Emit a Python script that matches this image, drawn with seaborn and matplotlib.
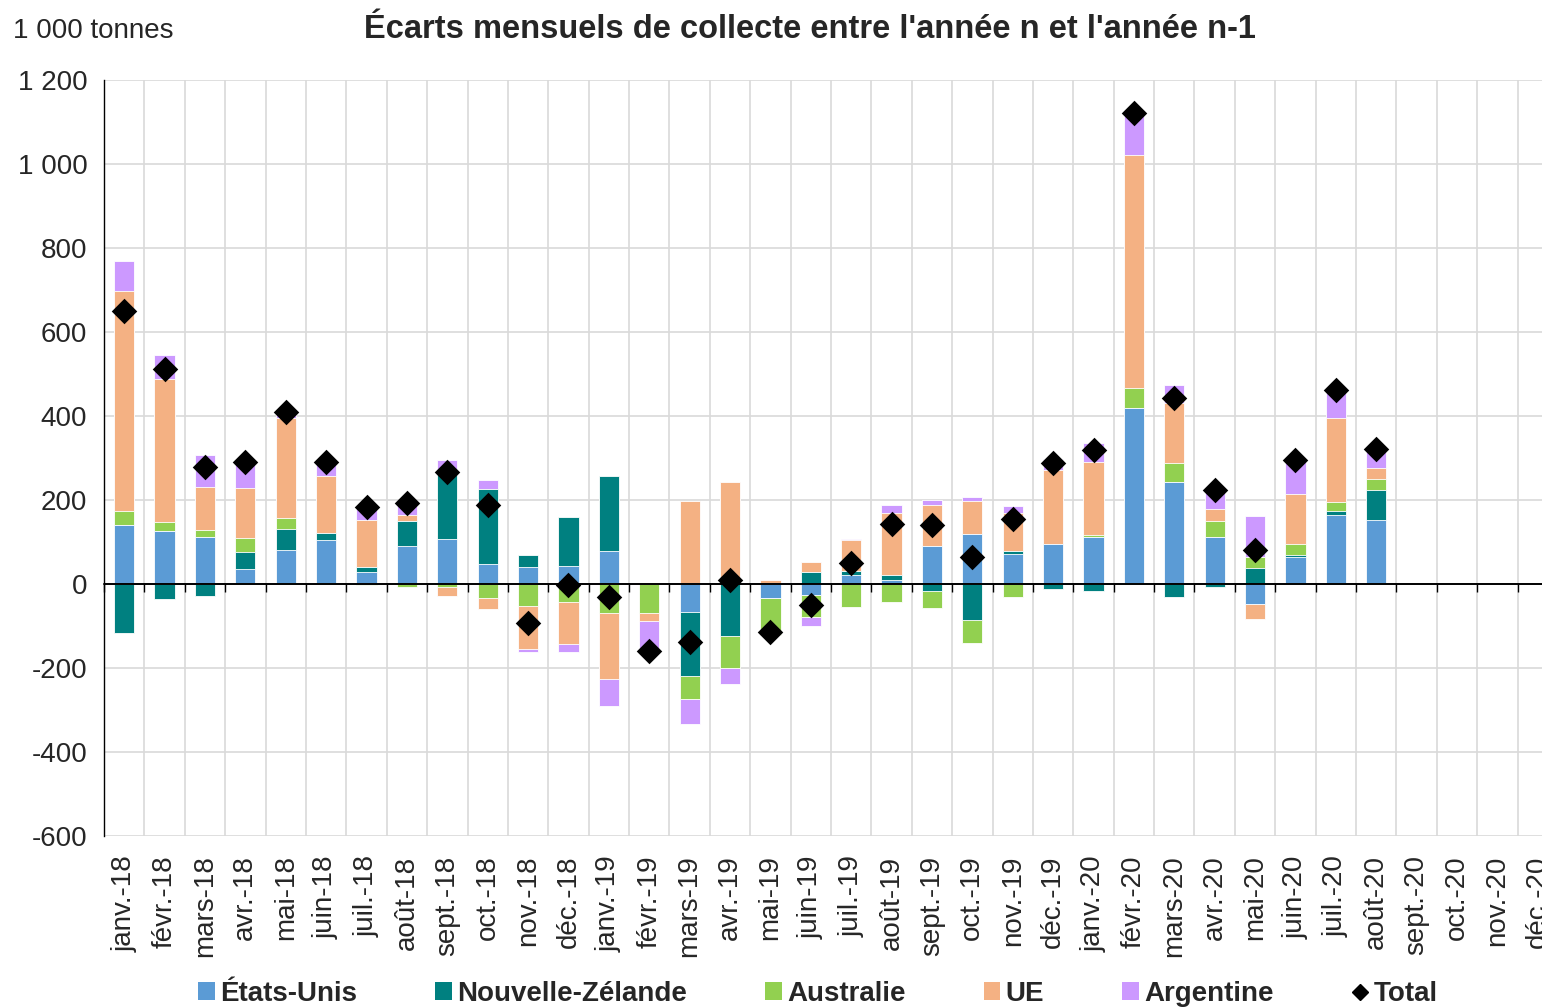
import numpy as np
import pandas as pd
import matplotlib
matplotlib.use("Agg")
import matplotlib.pyplot as plt
import seaborn as sns
from matplotlib.patches import Patch
from matplotlib.lines import Line2D
from matplotlib.ticker import FuncFormatter, MultipleLocator

nan = np.nan

months = ["janv.-18", "févr.-18", "mars-18", "avr.-18", "mai-18", "juin-18",
          "juil.-18", "août-18", "sept.-18", "oct.-18", "nov.-18", "déc.-18",
          "janv.-19", "févr.-19", "mars-19", "avr.-19", "mai-19", "juin-19",
          "juil.-19", "août-19", "sept.-19", "oct.-19", "nov.-19", "déc.-19",
          "janv.-20", "févr.-20", "mars-20", "avr.-20", "mai-20", "juin-20",
          "juil.-20", "août-20", "sept.-20", "oct.-20", "nov.-20", "déc.-20"]

etats_unis = [140, 126, 112, 36, 81, 105, 29, 90, 107, 48, 40, 44,
              79, 2, -66, 0, -34, -26, 21, 10, 91, 119, 72, 96,
              113, 418, 242, 111, -47, 65, 165, 152, nan, nan, nan, nan]
nouvelle_zelande = [-117, -35, -28, 41, 51, 16, 12, 60, 157, 179, 29, 115,
                    177, 0, -152, -124, 0, 28, 11, 11, -17, -86, 7, -12,
                    -17, 0, -31, -7, 37, 4, 10, 73, nan, nan, nan, nan]
australie = [33, 22, 17, 33, 25, 0, -3, -6, -6, -34, -52, -44,
             -70, -70, -56, -76, -88, -53, -54, -44, -41, -55, -30, 0,
             4, 49, 45, 38, 28, 26, 20, 26, nan, nan, nan, nan]
ue = [524, 339, 103, 118, 238, 135, 111, 14, -22, -25, -102, -100,
      -157, -19, 197, 244, 10, 25, 73, 147, 96, 79, 89, 176,
      174, 555, 144, 30, -36, 119, 200, 25, nan, nan, nan, nan]
argentine = [71, 58, 74, 63, 14, 35, 30, 28, 31, 21, -8, -18,
             -63, -68, -60, -37, 0, -22, 1, 19, 12, 8, 18, 25,
             44, 94, 43, 50, 97, 82, 66, 46, nan, nan, nan, nan]
total = [650, 511, 279, 291, 409, 291, 183, 192, 266, 187, -93, -2,
         -32, -159, -139, 9, -115, -50, 49, 142, 141, 64, 154, 289,
         319, 1121, 442, 225, 80, 296, 461, 322, nan, nan, nan, nan]

series_names = ["États-Unis", "Nouvelle-Zélande", "Australie", "UE", "Argentine"]
colors = ["#5B9BD5", "#008080", "#92D050", "#F4B183", "#CC99FF"]

sns.set_style("white")
plt.rcParams["font.family"] = ["Liberation Sans", "DejaVu Sans"]

fig = plt.figure(figsize=(15.42, 10.08), dpi=100)
ax = fig.add_axes([104 / 1542, 1 - 836 / 1008, 1454 / 1542, 756 / 1008])

vals = np.array([etats_unis, nouvelle_zelande, australie, ue, argentine], dtype=float)
pos = np.where(vals > 0, vals, 0.0)
neg = np.where(vals < 0, vals, 0.0)
pos_cum = np.cumsum(pos, axis=0)
neg_cum = np.cumsum(neg, axis=0)

# Stacked bars: positives stacked upward, negatives downward (Excel style)
for k in reversed(range(len(series_names))):
    for cum in (pos_cum, neg_cum):
        h = np.where(cum[k] != 0, cum[k], np.nan)
        df = pd.DataFrame({"mois": months, "v": h})
        sns.barplot(data=df, x="mois", y="v", order=months, color=colors[k],
                    saturation=1, width=0.5, errorbar=None,
                    edgecolor="white", linewidth=0.6, ax=ax, zorder=2)

dft = pd.DataFrame({"mois": months, "total": total})
sns.stripplot(data=dft, x="mois", y="total", order=months, jitter=False,
              marker="D", size=13, color="black", linewidth=0, zorder=6, ax=ax)

ax.set_xlim(-0.5, 35.5)
ax.set_ylim(-600, 1200)
ax.set_xlabel("")
ax.set_ylabel("")
ax.yaxis.set_major_locator(MultipleLocator(200))
ax.yaxis.set_major_formatter(FuncFormatter(lambda v, p: f"{v:,.0f}".replace(",", " ")))

ax.set_xticks(np.arange(len(months)))
ax.set_xticklabels(months)
ax.set_xticks(np.arange(-0.5, len(months), 1), minor=True)
ax.grid(axis="y", which="major", color="#D9D9D9", lw=1.2)
ax.grid(axis="x", which="minor", color="#D9D9D9", lw=1.2)
ax.grid(axis="x", which="major", visible=False)
ax.set_axisbelow(True)

ax.tick_params(axis="x", which="both", length=0, labelsize=20, rotation=90, pad=14)
ax.tick_params(axis="y", which="major", direction="out", length=6, width=1,
               color="black", labelsize=20, pad=6)
for s in ("top", "right", "bottom"):
    ax.spines[s].set_visible(False)
ax.spines["left"].set_color("black")
ax.spines["left"].set_linewidth(1)

ax.axhline(0, color="black", lw=1.2, zorder=4)
sec = ax.secondary_xaxis(1 / 3)
sec.set_xticks(np.arange(-0.5, len(months), 1))
sec.tick_params(axis="x", length=6, width=1, direction="out", color="black", labelbottom=False)
sec.spines["bottom"].set_color("black")
sec.spines["bottom"].set_linewidth(1.2)
sec.set_zorder(4)

fig.text(13 / 1542, 1 - 31 / 1008, "1 000 tonnes", ha="left", va="center", fontsize=20)
fig.text(810 / 1542, 1 - 29 / 1008,
         "Écarts mensuels de collecte entre l'année n et l'année n-1",
         ha="center", va="center", fontsize=23.5, fontweight="bold")

handles = [Patch(facecolor=c, edgecolor="none") for c in colors]
handles.append(Line2D([], [], marker="D", color="black", linestyle="none", markersize=8))
fig.legend(handles, series_names + ["Total"], loc="center",
           bbox_to_anchor=(818 / 1542, 1 - 994 / 1008), ncol=6, frameon=False,
           prop={"weight": "bold", "size": 20}, handlelength=0.6, handleheight=0.6,
           handletextpad=0.2, columnspacing=2.8, borderpad=0)

fig.savefig("out.png", dpi=100)
